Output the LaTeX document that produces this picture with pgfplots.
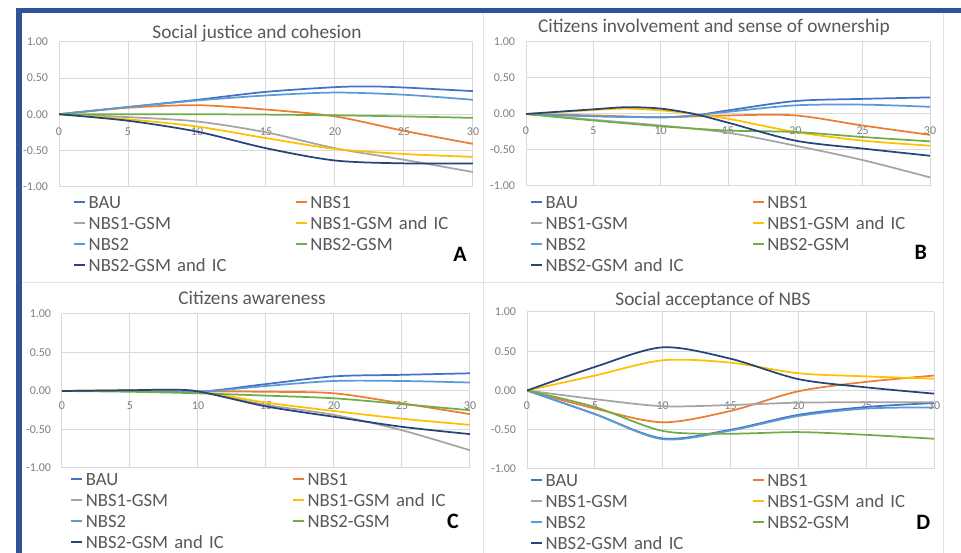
\documentclass[border=0pt]{standalone}
\usepackage{pgfplots}
\pgfplotsset{compat=1.18}
\usepackage{fontspec}
\setmainfont{Carlito}
\definecolor{cBAU}{HTML}{4472C4}
\definecolor{cNa}{HTML}{ED7D31}
\definecolor{cNaG}{HTML}{A5A5A5}
\definecolor{cNaGI}{HTML}{FFC000}
\definecolor{cNb}{HTML}{5B9BD5}
\definecolor{cNbG}{HTML}{70AD47}
\definecolor{cNbGI}{HTML}{264478}
\definecolor{frameblue}{HTML}{2F5597}
\definecolor{txt}{HTML}{595959}
\definecolor{tickc}{HTML}{7F7F7F}
\definecolor{gridc}{HTML}{D9D9D9}
\definecolor{sepc}{HTML}{E2E2E2}
\pgfplotsset{
  panel/.style={
    scale only axis, xmin=0, xmax=30, ymin=-1, ymax=1,
    xtick={0,5,10,15,20,25,30}, xticklabels={0,5,10,15,20,25,30},
    ytick={-1,-0.5,0,0.5,1}, yticklabels={-1.00,-0.50,0.00,0.50,1.00},
    grid=major, grid style={gridc, line width=0.75pt},
    axis line style={draw=none}, major tick length=0pt,
    tick label style={font=\fontsize{9}{10}\selectfont, text=tickc},
    yticklabel style={anchor=east, inner sep=0pt, xshift=-8pt},
    legend columns=2, legend cell align=left,
    legend image code/.code={\draw[##1, line width=1.3pt] (0pt,0pt) -- (8.25pt,0pt);},
    legend style={draw=none, fill=none, font=\fontsize{14}{16}\selectfont,
      anchor=north west, row sep=0pt, column sep=0pt, inner sep=0pt,
      nodes={inner xsep=2pt, inner ysep=0pt, text height=12.5pt, text depth=3.25pt,
        text width=152.75pt, align=left, text=txt}},
    every axis plot/.append style={line width=1.3pt, smooth, no markers},
  },
}
\begin{document}
\begin{tikzpicture}
\useasboundingbox (0,0) rectangle (720.75pt,414.75pt);
\fill[white] (0,0) rectangle (720.75pt,414.75pt);
% separators
\draw[sepc, line width=0.75pt] (16.5pt,202.5pt) -- (707.25pt,202.5pt);
\draw[sepc, line width=0.75pt] (362.25pt,405pt) -- (362.25pt,0pt);
\draw[sepc, line width=0.75pt] (707.25pt,405pt) -- (707.25pt,0pt);
% frame
\fill[frameblue] (12pt,405pt) rectangle (720.75pt,408.75pt);
\fill[frameblue] (12pt,0pt) rectangle (16.5pt,408.75pt);

% ---------------- A
\begin{axis}[panel, at={(44.25pt,383.25pt)}, anchor=north west,
  width=310.5pt, height=108.375pt,
  xticklabel style={anchor=center, yshift=41.25pt},
  legend style={at={(0.034,-0.035)}}]
\addplot[cBAU] coordinates {(0,0)(5,0.10)(10,0.20)(15,0.31)(20,0.375)(22.5,0.385)(25,0.37)(30,0.32)};
\addplot[cNa] coordinates {(0,0)(5,0.09)(10,0.125)(15,0.065)(20,-0.03)(25,-0.23)(30,-0.41)};
\addplot[cNaG] coordinates {(0,0)(5,-0.04)(10,-0.10)(15,-0.25)(20,-0.47)(25,-0.63)(30,-0.80)};
\addplot[cNaGI] coordinates {(0,0)(5,-0.07)(10,-0.17)(15,-0.33)(20,-0.48)(25,-0.55)(30,-0.59)};
\addplot[cNb] coordinates {(0,0)(5,0.10)(10,0.19)(15,0.26)(20,0.30)(25,0.27)(30,0.20)};
\addplot[cNbG] coordinates {(0,0)(5,0)(10,0)(15,-0.005)(20,-0.015)(25,-0.03)(30,-0.05)};
\addplot[cNbGI] coordinates {(0,0)(5,-0.09)(10,-0.24)(15,-0.47)(20,-0.64)(25,-0.68)(30,-0.68)};
\legend{BAU,NBS1,NBS1-GSM,NBS1-GSM and IC,NBS2,NBS2-GSM,NBS2-GSM and IC}
\end{axis}

% ---------------- B
\begin{axis}[panel, at={(394.5pt,383.25pt)}, anchor=north west,
  width=303pt, height=108pt,
  xticklabel style={anchor=center, yshift=41.5pt},
  legend style={at={(0.01,-0.038)}}]
\addplot[cBAU] coordinates {(0,0)(5,-0.03)(10,-0.045)(12.5,-0.02)(15,0.05)(20,0.18)(25,0.21)(30,0.23)};
\addplot[cNa] coordinates {(0,0)(5,-0.02)(10,-0.045)(15,-0.02)(20,-0.02)(25,-0.16)(30,-0.29)};
\addplot[cNaG] coordinates {(0,0)(5,-0.08)(10,-0.16)(15,-0.26)(20,-0.44)(25,-0.64)(30,-0.88)};
\addplot[cNaGI] coordinates {(0,0)(5,0.055)(7.5,0.075)(10,0.05)(12.5,0)(15,-0.065)(20,-0.25)(25,-0.37)(30,-0.44)};
\addplot[cNb] coordinates {(0,0)(5,-0.03)(10,-0.045)(12.5,-0.02)(15,0.03)(20,0.12)(25,0.13)(30,0.10)};
\addplot[cNbG] coordinates {(0,0)(5,-0.09)(10,-0.17)(15,-0.23)(20,-0.25)(25,-0.32)(30,-0.38)};
\addplot[cNbGI] coordinates {(0,0)(5,0.065)(7.5,0.095)(10,0.075)(12.5,0)(15,-0.12)(20,-0.37)(25,-0.48)(30,-0.58)};
\legend{BAU,NBS1,NBS1-GSM,NBS1-GSM and IC,NBS2,NBS2-GSM,NBS2-GSM and IC}
\end{axis}

% ---------------- C
\begin{axis}[panel, at={(46.5pt,179.25pt)}, anchor=north west,
  width=306pt, height=115.5pt,
  xticklabel style={anchor=center, yshift=47pt},
  legend style={at={(0.02,-0.003)}}]
\addplot[cBAU] coordinates {(0,0)(5,0)(10,-0.01)(15,0.09)(20,0.19)(25,0.21)(30,0.23)};
\addplot[cNa] coordinates {(0,0)(5,0.005)(10,-0.005)(15,-0.01)(20,-0.03)(25,-0.16)(30,-0.30)};
\addplot[cNaG] coordinates {(0,0)(5,0.01)(7.5,0.015)(10,-0.005)(15,-0.18)(20,-0.31)(25,-0.51)(30,-0.77)};
\addplot[cNaGI] coordinates {(0,0)(5,0.005)(10,-0.01)(15,-0.15)(20,-0.26)(25,-0.36)(30,-0.44)};
\addplot[cNb] coordinates {(0,0)(5,0)(10,-0.01)(15,0.065)(20,0.13)(25,0.13)(30,0.11)};
\addplot[cNbG] coordinates {(0,0)(5,-0.01)(10,-0.03)(15,-0.06)(20,-0.095)(25,-0.17)(30,-0.25)};
\addplot[cNbGI] coordinates {(0,0)(5,0.01)(7.5,0.015)(10,-0.005)(15,-0.2)(20,-0.335)(25,-0.465)(30,-0.56)};
\legend{BAU,NBS1,NBS1-GSM,NBS1-GSM and IC,NBS2,NBS2-GSM,NBS2-GSM and IC}
\end{axis}

% ---------------- D
\begin{axis}[panel, at={(395.25pt,180.75pt)}, anchor=north west,
  width=305.25pt, height=117.75pt,
  xticklabel style={anchor=center, yshift=47.6pt},
  legend style={at={(0.007,-0.003)}}]
\addplot[cBAU] coordinates {(0,0)(5,-0.30)(10,-0.61)(15,-0.50)(20,-0.31)(25,-0.21)(30,-0.16)};
\addplot[cNa] coordinates {(0,0)(5,-0.23)(10,-0.405)(15,-0.26)(20,-0.01)(25,0.11)(30,0.19)};
\addplot[cNaG] coordinates {(0,0)(5,-0.11)(10,-0.2)(15,-0.185)(20,-0.155)(25,-0.15)(30,-0.15)};
\addplot[cNaGI] coordinates {(0,0)(5,0.19)(10,0.385)(15,0.355)(20,0.22)(25,0.18)(30,0.15)};
\addplot[cNb] coordinates {(0,0)(5,-0.30)(10,-0.62)(15,-0.51)(20,-0.325)(25,-0.23)(30,-0.215)};
\addplot[cNbG] coordinates {(0,0)(5,-0.21)(10,-0.515)(15,-0.55)(20,-0.53)(25,-0.565)(30,-0.615)};
\addplot[cNbGI] coordinates {(0,0)(5,0.30)(10,0.55)(15,0.405)(20,0.145)(25,0.04)(30,-0.04)};
\legend{BAU,NBS1,NBS1-GSM,NBS1-GSM and IC,NBS2,NBS2-GSM,NBS2-GSM and IC}
\end{axis}

% titles
\node[anchor=base, font=\fontsize{14.5}{16}\selectfont, text=txt] at (192.75pt,386pt) {Social justice and cohesion};
\node[anchor=base, font=\fontsize{14.5}{16}\selectfont, text=txt] at (535.5pt,390.2pt) {Citizens involvement and sense of ownership};
\node[anchor=base, font=\fontsize{14.5}{16}\selectfont, text=txt] at (189pt,186pt) {Citizens awareness};
\node[anchor=base, font=\fontsize{14.5}{16}\selectfont, text=txt] at (534.75pt,185.25pt) {Social acceptance of NBS};
% letters
\node[anchor=base, font=\bfseries\fontsize{16.5}{18}\selectfont] at (345pt,218.5pt) {A};
\node[anchor=base, font=\bfseries\fontsize{16.5}{18}\selectfont] at (690.5pt,219.75pt) {B};
\node[anchor=base, font=\bfseries\fontsize{16.5}{18}\selectfont] at (339.75pt,18.5pt) {C};
\node[anchor=base, font=\bfseries\fontsize{16.5}{18}\selectfont] at (692.5pt,17.25pt) {D};
\end{tikzpicture}
\end{document}
